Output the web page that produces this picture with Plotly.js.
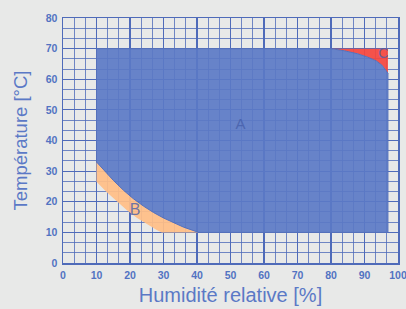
<!DOCTYPE html>
<html>
<head>
<meta charset="utf-8">
<script src="https://cdn.plot.ly/plotly-3.0.1.min.js"></script>
<style>html,body{margin:0;padding:0;background:#e8e9e8;}#chart{width:406px;height:309px;}</style>
</head>
<body>
<div id="chart"></div>
<script>
// Region A outline (humidity %, temperature °C)
const regionA_x = [10, 80, 84, 88, 91, 93.5, 95.2, 96.3, 97, 97, 40.5, 36, 33, 30, 27, 24, 21, 18, 15, 12, 10, 10];
const regionA_y = [70, 70, 69.3, 68.3, 67.2, 66, 64.6, 63.2, 62, 10, 10, 11.7, 13.1, 14.7, 16.5, 18.6, 21, 23.8, 27, 30.5, 33, 70];
// Region B outline
const regionB_x = [10, 12, 15, 18, 21, 24, 27, 30, 33, 36, 40.5, 29.5, 28, 25, 22, 19, 16, 13, 10, 10];
const regionB_y = [33, 30.5, 27, 23.8, 21, 18.6, 16.5, 14.7, 13.1, 11.7, 10, 10, 10.8, 12.7, 14.8, 17.3, 20.1, 23.2, 26.5, 33];
// Region C outline
const regionC_x = [80, 97, 97, 96.3, 95.2, 93.5, 91, 88, 84, 80];
const regionC_y = [70, 70, 62, 63.2, 64.6, 66, 67.2, 68.3, 69.3, 70];
// Region labels
const labelText = ["A", "B", "C"];
const labelX = [53, 21.5, 95.6];
const labelY = [45, 17, 68];

const gridColor = "#4f6bb9";
const traces = [
  {x: regionB_x, y: regionB_y, type: "scatter", mode: "lines", fill: "toself",
   fillcolor: "rgba(255,190,135,0.93)", line: {width: 0}, hoverinfo: "skip"},
  {x: regionC_x, y: regionC_y, type: "scatter", mode: "lines", fill: "toself",
   fillcolor: "rgba(245,70,62,0.93)", line: {width: 0}, hoverinfo: "skip"},
  {x: regionA_x, y: regionA_y, type: "scatter", mode: "lines", fill: "toself",
   fillcolor: "rgba(91,122,197,0.92)", line: {width: 1, color: "#5570bb"}, hoverinfo: "skip"},
  {x: labelX, y: labelY, type: "scatter", mode: "text", text: labelText,
   textfont: {family: "Liberation Sans, Arial, sans-serif", size: [15, 16, 14], color: "rgba(70,95,170,0.8)"},
   hoverinfo: "skip"}
];
const tickFont = {family: "Liberation Sans, Arial, sans-serif", size: 10.5, color: "#5273c2", weight: "bold"};
const layout = {
  width: 406, height: 309,
  margin: {l: 63, r: 8, t: 18, b: 46},
  paper_bgcolor: "#e8e9e8", plot_bgcolor: "#e8e9e8",
  showlegend: false,
  xaxis: {
    range: [0, 100], dtick: 10, tick0: 0, fixedrange: true,
    showgrid: true, gridcolor: gridColor, gridwidth: 1.2,
    minor: {dtick: 10/3, tick0: 0, showgrid: true, gridcolor: "rgba(79,107,185,0.8)", gridwidth: 1},
    showline: true, linecolor: gridColor, linewidth: 1.5, mirror: true,
    zeroline: false, ticks: "", tickfont: tickFont, ticklabelstandoff: 2,
    ticklabeloverflow: "allow",
    title: {text: "Humidité relative [%]", font: {family: "Liberation Sans, Arial, sans-serif", size: 20, color: "#5b79c6"}, standoff: 8}
  },
  yaxis: {
    range: [0, 80], dtick: 10, tick0: 0, fixedrange: true,
    showgrid: true, gridcolor: gridColor, gridwidth: 1.2,
    minor: {dtick: 10/3, tick0: 0, showgrid: true, gridcolor: "rgba(79,107,185,0.8)", gridwidth: 1},
    showline: true, linecolor: gridColor, linewidth: 1.5, mirror: true,
    zeroline: false, ticks: "", tickfont: tickFont, ticklabelstandoff: 2,
    title: {text: "Température [°C]", font: {family: "Liberation Sans, Arial, sans-serif", size: 18.5, color: "#5b79c6"}, standoff: 13}
  }
};
Plotly.newPlot("chart", traces, layout, {staticPlot: true, displayModeBar: false});
</script>
</body>
</html>
